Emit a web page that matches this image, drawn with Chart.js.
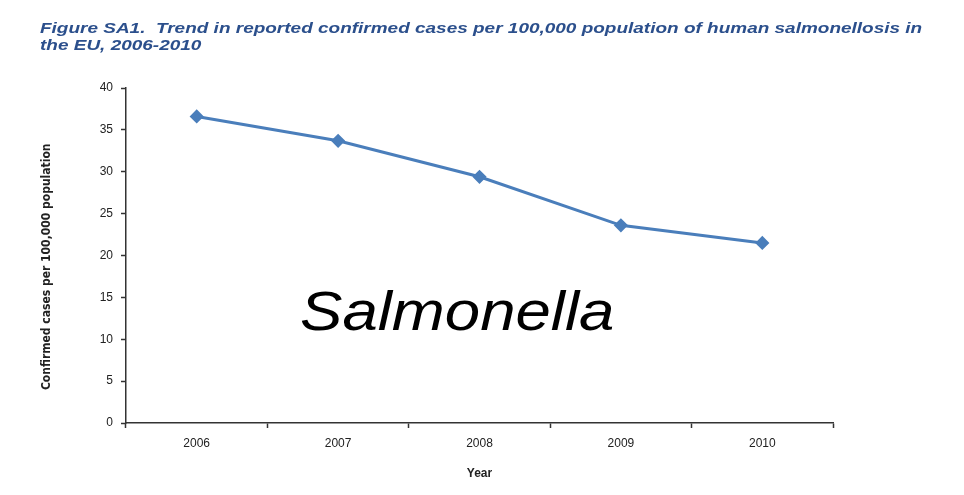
<!DOCTYPE html>
<html>
<head>
<meta charset="utf-8">
<script src="https://cdn.jsdelivr.net/npm/chart.js@4.4.1/dist/chart.umd.min.js"></script>
<style>
    html, body { margin: 0; padding: 0; background: #ffffff; }
    #wrap { position: relative; width: 964px; height: 495px; overflow: hidden; }
    #caption {
        position: absolute; left: 40px; top: 19px; width: 720px;
        font: italic bold 15px "Liberation Sans", Arial, sans-serif;
        color: #2b4f8c; line-height: 17px;
        transform-origin: left top; transform: scaleX(1.265);
        white-space: nowrap;
    }
    #stamp {
        position: absolute; left: 300px; top: 278px;
        font: italic 56px "Liberation Sans", Arial, sans-serif;
        color: #000; transform-origin: left top; transform: scaleX(1.135);
        white-space: nowrap;
    }
    canvas { position: absolute; left: 0; top: 0; }
</style>
</head>
<body>
<div id="wrap">
    <canvas id="trendChart" width="964" height="495"></canvas>
    <div id="caption">Figure SA1.&nbsp; Trend in reported confirmed cases per 100,000 population of human salmonellosis in<br>the EU, 2006-2010</div>
    <div id="stamp">Salmonella</div>
</div>
<script>
// values
const years = ['2006', '2007', '2008', '2009', '2010'];
const casesPer100k = [36.6, 33.7, 29.4, 23.6, 21.5];
const yTicks = [0, 5, 10, 15, 20, 25, 30, 35, 40];

const axisColor = '#333333';

const ctx = document.getElementById('trendChart');
const trendChart = new Chart(ctx, {
    type: 'line',
    data: {
        labels: years,
        datasets: [{
            data: casesPer100k,
            borderColor: '#4a7ebb',
            backgroundColor: '#4a7ebb',
            borderWidth: 3,
            pointStyle: 'rectRot',
            pointRadius: 5,
            pointHoverRadius: 5,
            tension: 0
        }]
    },
    options: {
        responsive: false,
        animation: false,
        layout: {
            padding: { left: 0, top: 88, right: 131, bottom: 0 }
        },
        plugins: {
            legend: { display: false },
            tooltip: { enabled: false }
        },
        scales: {
            x: {
                offset: true,
                grid: {
                    display: true,
                    offset: true,
                    drawOnChartArea: false,
                    drawTicks: true,
                    tickLength: 5,
                    tickColor: axisColor,
                    tickWidth: 1.5
                },
                border: { color: axisColor, width: 1.5 },
                ticks: {
                    color: '#222',
                    padding: 8,
                    font: { family: 'Liberation Sans', size: 12 }
                },
                title: {
                    display: true,
                    text: 'Year',
                    color: '#222',
                    font: { family: 'Liberation Sans', size: 12, weight: 'bold' },
                    padding: { top: 0, bottom: 14 }
                },
                afterFit: function(scale) { scale.height = 72; }
            },
            y: {
                min: 0,
                max: 40,
                afterBuildTicks: function(scale) {
                    scale.ticks = yTicks.map(function(v) { return { value: v }; });
                },
                grid: {
                    display: true,
                    drawOnChartArea: false,
                    drawTicks: true,
                    tickLength: 5,
                    tickColor: axisColor,
                    tickWidth: 1.5
                },
                border: { color: axisColor, width: 1.5 },
                ticks: {
                    color: '#222',
                    padding: 8,
                    font: { family: 'Liberation Sans', size: 12 }
                },
                title: {
                    display: true,
                    // trailing spaces nudge the rotated label down a little
                    text: 'Confirmed cases per 100,000 population      ',
                    color: '#222',
                    font: { family: 'DejaVu Sans Condensed', size: 12, weight: 'bold' },
                    padding: { top: 40, bottom: 0 }
                },
                afterFit: function(scale) { scale.width = 126; }
            }
        }
    }
});
</script>
</body>
</html>
